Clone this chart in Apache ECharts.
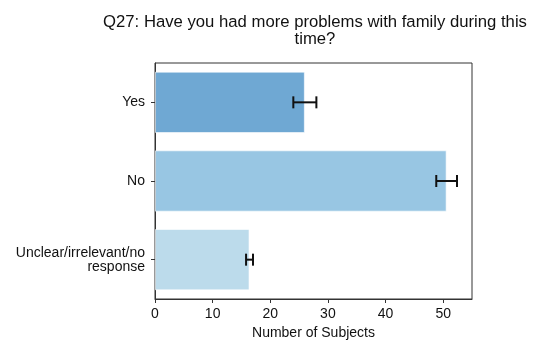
<!DOCTYPE html>
<html>
<head>
<meta charset="utf-8">
<script src="https://cdn.jsdelivr.net/npm/echarts@6/dist/echarts.min.js"></script>
<style>
  html, body { margin: 0; padding: 0; background: #fff; }
  #chart { width: 539px; height: 345px; }
</style>
</head>
<body>
<div id="chart"></div>
<script>
// Responses to Q27, with standard error for each answer
const categories = ['Yes', 'No', 'Unclear/irrelevant/no\nresponse'];
const counts = [26.0, 50.6, 16.4];
const errors = [2.0, 1.8, 0.6];
const barColors = ['#6fa8d3', '#98c6e3', '#bcdbeb'];
const xTicks = [0, 10, 20, 30, 40, 50];

const chart = echarts.init(document.getElementById('chart'), null, { renderer: 'canvas' });
const font = 'Liberation Sans, Arial, Helvetica, sans-serif';

chart.setOption({
  animation: false,
  backgroundColor: '#fff',
  title: {
    text: 'Q27: Have you had more problems with family during this\ntime?',
    left: 310,
    textAlign: 'center',
    top: 9,
    textStyle: { fontFamily: font, fontSize: 16.7, fontWeight: 'normal', color: '#111', lineHeight: 17 }
  },
  grid: {
    left: 155, right: 67, top: 63, bottom: 46,
    show: true, borderColor: '#333', borderWidth: 1, backgroundColor: 'transparent'
  },
  xAxis: {
    type: 'value',
    min: 0, max: 55, interval: 10,
    name: 'Number of Subjects',
    nameLocation: 'middle',
    nameGap: 27,
    nameTextStyle: { fontFamily: font, fontSize: 14, color: '#111', verticalAlign: 'top' },
    axisLine: { show: true, lineStyle: { color: '#333', width: 1 } },
    axisTick: { show: true, length: 4, customValues: xTicks, lineStyle: { color: '#333' } },
    axisLabel: {
      fontFamily: font, fontSize: 14, color: '#111', margin: 8,
      customValues: xTicks
    },
    splitLine: { show: false }
  },
  yAxis: {
    type: 'category',
    data: categories,
    inverse: true,
    axisLine: { show: true, lineStyle: { color: '#333', width: 1 } },
    axisTick: { show: true, length: 4, alignWithLabel: true, lineStyle: { color: '#333' } },
    axisLabel: { fontFamily: font, fontSize: 14, color: '#111', margin: 10, align: 'right', lineHeight: 14 },
    splitLine: { show: false }
  },
  series: [
    {
      type: 'bar',
      data: counts.map((v, i) => ({ value: v, itemStyle: { color: barColors[i] } })),
      barCategoryGap: '22%',
      itemStyle: { borderColor: 'rgba(255,255,255,0.6)', borderWidth: 1 }
    },
    {
      type: 'custom',
      data: counts.map((v, i) => [i, v - errors[i], v + errors[i]]),
      encode: { y: 0, x: [1, 2] },
      z: 10,
      renderItem: function (params, api) {
        const cat = api.value(0);
        const lo = api.coord([api.value(1), cat]);
        const hi = api.coord([api.value(2), cat]);
        const cap = 6;
        const style = { stroke: '#111', lineWidth: 2 };
        return {
          type: 'group',
          children: [
            { type: 'line', shape: { x1: lo[0], y1: lo[1], x2: hi[0], y2: hi[1] }, style },
            { type: 'line', shape: { x1: lo[0], y1: lo[1] - cap, x2: lo[0], y2: lo[1] + cap }, style },
            { type: 'line', shape: { x1: hi[0], y1: hi[1] - cap, x2: hi[0], y2: hi[1] + cap }, style }
          ]
        };
      }
    }
  ]
});
</script>
</body>
</html>
